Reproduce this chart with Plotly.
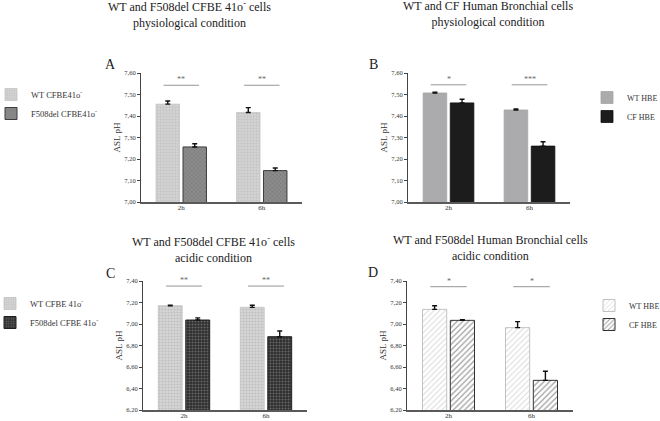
import plotly.graph_objects as go

categories = ["2h", "6h"]

# Panel A: WT vs F508del CFBE41o-, physiological
a_wt = [7.455, 7.416]
a_wt_err = [0.015, 0.023]
a_mut = [7.256, 7.146]
a_mut_err = [0.015, 0.012]
a_sig = ["**", "**"]

# Panel B: WT vs CF HBE, physiological
b_wt = [7.507, 7.428]
b_wt_err = [0.004, 0.005]
b_cf = [7.461, 7.260]
b_cf_err = [0.017, 0.020]
b_sig = ["*", "***"]

# Panel C: WT vs F508del CFBE 41o-, acidic
c_wt = [7.170, 7.155]
c_wt_err = [0.005, 0.020]
c_mut = [7.037, 6.882]
c_mut_err = [0.020, 0.053]
c_sig = ["**", "**"]

# Panel D: WT vs F508del HBE, acidic
d_wt = [7.136, 6.966]
d_wt_err = [0.034, 0.056]
d_cf = [7.034, 6.476]
d_cf_err = [0.005, 0.085]
d_sig = ["*", "*"]

W, H = 660, 421
SERIF = "Liberation Serif, Times New Roman, serif"


def px_x(p):
    return p / W


def px_y(p):
    return 1 - p / H


fig = go.Figure()

panels = [
    dict(ax="", wt=a_wt, wte=a_wt_err, mu=a_mut, mue=a_mut_err, sig=a_sig,
         names=["WT CFBE41o<sup>-</sup>", "F508del CFBE41o<sup>-</sup>"],
         wt_style=dict(color="#cecece", pattern=dict(shape=".", bgcolor="#d2d2d2", fgcolor="#b4b4b4", size=3, solidity=0.35),
                       line=dict(color="#c4c4c4", width=0.8)),
         mu_style=dict(color="#858585", pattern=dict(shape="x", bgcolor="#8c8c8c", fgcolor="#5c5c5c", size=3, solidity=0.3),
                       line=dict(color="#3c3c3c", width=1)),
         legend="legend", yr=[7.0, 7.6], dt=0.1, sigy=7.543),
    dict(ax="2", wt=b_wt, wte=b_wt_err, mu=b_cf, mue=b_cf_err, sig=b_sig,
         names=["WT HBE", "CF HBE"],
         wt_style=dict(color="#ababad", line=dict(color="#a5a5a7", width=0.8)),
         mu_style=dict(color="#1c1c1c", line=dict(color="#111111", width=0.8)),
         legend="legend2", yr=[7.0, 7.6], dt=0.1, sigy=7.545),
    dict(ax="3", wt=c_wt, wte=c_wt_err, mu=c_mut, mue=c_mut_err, sig=c_sig,
         names=["WT CFBE 41o<sup>-</sup>", "F508del CFBE 41o<sup>-</sup>"],
         wt_style=dict(color="#d0d0d0", pattern=dict(shape=".", bgcolor="#d6d6d6", fgcolor="#a6a6a6", size=3, solidity=0.4),
                       line=dict(color="#c0c0c0", width=0.8)),
         mu_style=dict(color="#333333", pattern=dict(shape=".", bgcolor="#2e2e2e", fgcolor="#a0a0a0", size=3, solidity=0.35),
                       line=dict(color="#202020", width=1)),
         legend="legend3", yr=[6.2, 7.4], dt=0.2, sigy=7.353),
    dict(ax="4", wt=d_wt, wte=d_wt_err, mu=d_cf, mue=d_cf_err, sig=d_sig,
         names=["WT HBE", "CF HBE"],
         wt_style=dict(color="#ffffff", pattern=dict(shape="/", bgcolor="#ffffff", fgcolor="#b4b4b4", size=4, solidity=0.25),
                       line=dict(color="#c2c2c2", width=1)),
         mu_style=dict(color="#ffffff", pattern=dict(shape="/", bgcolor="#ffffff", fgcolor="#3a3a3a", size=4, solidity=0.3),
                       line=dict(color="#333333", width=1)),
         legend="legend4", yr=[6.2, 7.4], dt=0.2, sigy=7.347),
]

for p in panels:
    xa, ya = "x" + p["ax"], "y" + p["ax"]
    for vals, errs, name, style in [(p["wt"], p["wte"], p["names"][0], p["wt_style"]),
                                    (p["mu"], p["mue"], p["names"][1], p["mu_style"])]:
        fig.add_trace(go.Bar(
            x=categories, y=vals, name=name, xaxis=xa, yaxis=ya,
            marker=style, legend=p["legend"], hoverinfo="skip",
            error_y=dict(type="data", array=errs, arrayminus=[0] * len(errs), symmetric=False,
                         color="#111111", thickness=1.4, width=2.5),
        ))
    # significance lines and stars
    for i, s in enumerate(p["sig"]):
        fig.add_shape(type="line", xref=xa, yref=ya, x0=i - 0.22, x1=i + 0.22,
                      y0=p["sigy"], y1=p["sigy"], line=dict(color="#8a8a8a", width=0.9))
        fig.add_annotation(xref=xa, yref=ya, x=i, y=p["sigy"], text=s, showarrow=False,
                           yanchor="bottom", yshift=-1, font=dict(family=SERIF, size=8, color="#666666"))

# domains (pixels -> paper)
dom = {
    "": ((141, 302), (73, 202)),
    "2": ((408, 570), (73, 202)),
    "3": ((143, 307), (281, 410)),
    "4": ((407, 573), (281, 410)),
}
layout_axes = {}
for p in panels:
    k = p["ax"]
    (x0, x1), (y0, y1) = dom[k]
    layout_axes["xaxis" + k] = dict(
        domain=[px_x(x0), px_x(x1)], anchor="y" + k, type="category", range=[-0.5, 1.5],
        showline=True, linecolor="#5a5a5a", linewidth=1.6, ticks="", showgrid=False, zeroline=False,
        tickfont=dict(family=SERIF, size=7, color="#333333"), ticklabelstandoff=-2, fixedrange=True,
    )
    layout_axes["yaxis" + k] = dict(
        domain=[px_y(y1), px_y(y0)], anchor="x" + k, range=p["yr"], dtick=p["dt"], tick0=p["yr"][0],
        tickformat=".2f", ticks="outside", ticklen=3, tickwidth=0.8, tickcolor="#444444",
        showline=True, linecolor="#444444", linewidth=1, showgrid=False, zeroline=False,
        tickfont=dict(family=SERIF, size=6.5, color="#333333"), fixedrange=True,
        title=dict(text="ASL pH", font=dict(family=SERIF, size=9, color="#333333"), standoff=2),
    )

fig.update_layout(**layout_axes)

leg_common = dict(bgcolor="rgba(0,0,0,0)", xanchor="left", yanchor="middle",
                  itemclick=False, itemdoubleclick=False)
fig.update_layout(
    legend=dict(x=px_x(-9), y=px_y(104), font=dict(family=SERIF, size=8.5, color="#333333"), **leg_common),
    legend2=dict(x=px_x(587), y=px_y(107), font=dict(family=SERIF, size=8, color="#333333"), **leg_common),
    legend3=dict(x=px_x(-10), y=px_y(313), font=dict(family=SERIF, size=8.5, color="#333333"), **leg_common),
    legend4=dict(x=px_x(589), y=px_y(315), font=dict(family=SERIF, size=8, color="#333333"), **leg_common),
)

# titles and panel letters
titles = [
    (189, 14, "WT and F508del CFBE 41o<sup>-</sup> cells<br>physiological condition"),
    (488, 14, "WT and CF Human Bronchial cells<br>physiological condition"),
    (213, 249, "WT and F508del CFBE 41o<sup>-</sup> cells<br>acidic condition"),
    (490, 248, "WT and F508del Human Bronchial cells<br>acidic condition"),
]
for x, y, t in titles:
    fig.add_annotation(xref="paper", yref="paper", x=px_x(x), y=px_y(y), text=t, showarrow=False,
                       xanchor="center", yanchor="middle", font=dict(family=SERIF, size=12, color="#222222"))
letters = [(110, 64, "A"), (373, 64, "B"), (110, 273, "C"), (373, 272, "D")]
for x, y, t in letters:
    fig.add_annotation(xref="paper", yref="paper", x=px_x(x), y=px_y(y), text=t, showarrow=False,
                       xanchor="center", yanchor="middle", font=dict(family=SERIF, size=14, color="#222222"))

fig.update_layout(
    width=W, height=H, margin=dict(l=0, r=0, t=0, b=0, autoexpand=False),
    paper_bgcolor="white", plot_bgcolor="white",
    barmode="group", bargap=0.33, bargroupgap=0.13,
    separators=", ", showlegend=True,
)

fig.write_html("out.html", config={"displayModeBar": False},
               post_script="document.body.style.margin='0';document.body.style.overflow='hidden';")
